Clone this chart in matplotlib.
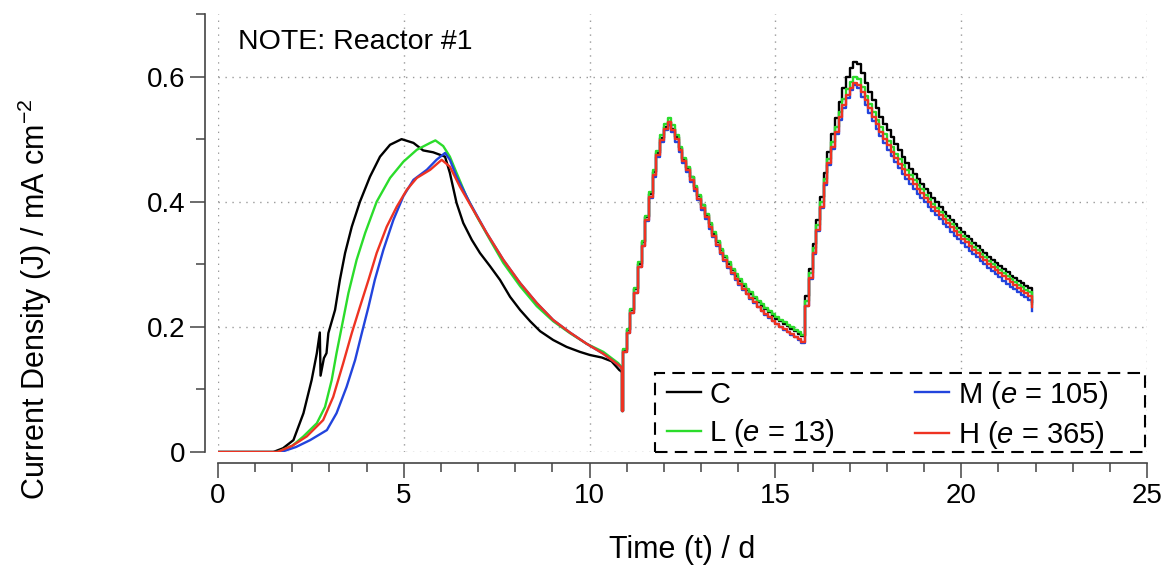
import numpy as np
import matplotlib
matplotlib.use('Agg')
import matplotlib.pyplot as plt
from matplotlib.patches import Rectangle
from matplotlib.ticker import MultipleLocator, FuncFormatter

plt.rcParams['font.family'] = ['Liberation Sans', 'DejaVu Sans']
plt.rcParams['mathtext.fontset'] = 'custom'
plt.rcParams['mathtext.rm'] = 'Liberation Sans'
plt.rcParams['mathtext.it'] = 'Liberation Sans:italic'

# series
labels = ['C', 'L ($e$ = 13)', 'M ($e$ = 105)', 'H ($e$ = 365)']
colors = ['#000000', '#2bdc2b', '#2244dd', '#ee3322']

# phase 1 (start-up), time / d and J / mA cm-2
t1_C = [0, 1.49, 1.75, 2.03, 2.30, 2.52, 2.66, 2.74, 2.76, 2.85, 2.92, 2.97, 3.15, 3.28,
        3.42, 3.60, 3.82, 4.09, 4.36, 4.63, 4.94, 5.26, 5.52, 5.79, 6.11, 6.24, 6.42,
        6.60, 6.83, 7.05, 7.32, 7.59, 7.86, 8.13, 8.40, 8.67, 9.02, 9.38, 9.74, 10.01,
        10.33, 10.59, 10.80, 10.87]
j1_C = [0, 0, 0.006, 0.019, 0.062, 0.115, 0.158, 0.191, 0.122, 0.150, 0.158, 0.190, 0.227,
        0.275, 0.318, 0.360, 0.400, 0.440, 0.472, 0.491, 0.500, 0.494, 0.482, 0.479, 0.472,
        0.446, 0.398, 0.366, 0.339, 0.318, 0.297, 0.275, 0.248, 0.227, 0.209, 0.193, 0.179,
        0.168, 0.160, 0.155, 0.151, 0.145, 0.131, 0.128]

t1_L = [0, 1.60, 2.00, 2.30, 2.66, 2.88, 3.06, 3.19, 3.33, 3.51, 3.73, 3.96, 4.27, 4.63,
        4.99, 5.35, 5.71, 5.85, 6.06, 6.24, 6.42, 6.69, 6.96, 7.32, 7.68, 8.13, 8.58, 9.02,
        9.47, 9.92, 10.37, 10.77, 10.87]
j1_L = [0, 0, 0.010, 0.025, 0.046, 0.072, 0.115, 0.158, 0.200, 0.254, 0.307, 0.350, 0.400,
        0.438, 0.464, 0.483, 0.494, 0.498, 0.489, 0.472, 0.446, 0.408, 0.377, 0.339, 0.302,
        0.265, 0.233, 0.209, 0.190, 0.173, 0.160, 0.142, 0.135]

t1_M = [0, 1.70, 2.10, 2.48, 2.93, 3.19, 3.46, 3.69, 3.87, 4.05, 4.22, 4.45, 4.72, 4.99,
        5.26, 5.62, 5.88, 6.11, 6.24, 6.42, 6.78, 7.23, 7.68, 8.13, 8.58, 9.02, 9.47, 9.92,
        10.37, 10.82, 10.87]
j1_M = [0, 0, 0.008, 0.019, 0.035, 0.062, 0.104, 0.147, 0.190, 0.232, 0.275, 0.323, 0.371,
        0.409, 0.435, 0.451, 0.467, 0.478, 0.467, 0.440, 0.398, 0.350, 0.307, 0.270, 0.238,
        0.211, 0.191, 0.173, 0.157, 0.137, 0.133]

t1_H = [0, 1.60, 2.00, 2.39, 2.83, 3.10, 3.37, 3.60, 3.82, 4.05, 4.27, 4.54, 4.81, 5.08,
        5.35, 5.71, 6.02, 6.24, 6.51, 6.78, 7.23, 7.68, 8.13, 8.58, 9.02, 9.47, 9.92, 10.37,
        10.82, 10.87]
j1_H = [0, 0, 0.010, 0.025, 0.051, 0.088, 0.142, 0.190, 0.232, 0.275, 0.318, 0.360, 0.392,
        0.419, 0.438, 0.451, 0.467, 0.456, 0.424, 0.396, 0.350, 0.307, 0.270, 0.238, 0.211,
        0.191, 0.173, 0.157, 0.137, 0.133]

# dip at the medium change
t_dip = 10.88
j_dip = 0.065

# logged values after the medium changes (0.1 d steps)
t2 = np.round(np.arange(10.9, 15.75, 0.1), 2)
j2_C = [0.163, 0.195, 0.227, 0.260, 0.301, 0.336, 0.375, 0.412, 0.447, 0.478, 0.502,
        0.519, 0.527, 0.517, 0.503, 0.486, 0.469, 0.454, 0.439, 0.424, 0.409,
        0.394, 0.379, 0.364, 0.349, 0.336, 0.323, 0.312, 0.301, 0.291, 0.282,
        0.274, 0.266, 0.259, 0.252, 0.246, 0.240, 0.234, 0.228, 0.223, 0.218,
        0.213, 0.209, 0.205, 0.201, 0.197, 0.193, 0.189, 0.185]
j2_L = [0.165, 0.196, 0.228, 0.262, 0.303, 0.338, 0.377, 0.415, 0.450, 0.481, 0.506,
        0.524, 0.534, 0.522, 0.506, 0.488, 0.470, 0.455, 0.440, 0.425, 0.410,
        0.395, 0.380, 0.366, 0.351, 0.337, 0.325, 0.314, 0.303, 0.293, 0.284,
        0.276, 0.268, 0.261, 0.255, 0.248, 0.242, 0.236, 0.230, 0.225, 0.220,
        0.216, 0.211, 0.207, 0.203, 0.199, 0.195, 0.191, 0.187]
j2_M = [0.160, 0.190, 0.222, 0.254, 0.296, 0.330, 0.369, 0.406, 0.440, 0.471, 0.496,
        0.514, 0.523, 0.511, 0.496, 0.479, 0.462, 0.447, 0.432, 0.417, 0.402,
        0.387, 0.372, 0.357, 0.343, 0.329, 0.316, 0.305, 0.294, 0.284, 0.275,
        0.267, 0.259, 0.252, 0.245, 0.238, 0.231, 0.225, 0.219, 0.214, 0.209,
        0.204, 0.199, 0.195, 0.191, 0.187, 0.183, 0.179, 0.175]
j2_H = [0.160, 0.190, 0.222, 0.254, 0.296, 0.330, 0.370, 0.408, 0.443, 0.474, 0.499,
        0.517, 0.527, 0.515, 0.500, 0.482, 0.465, 0.450, 0.435, 0.420, 0.405,
        0.390, 0.375, 0.360, 0.345, 0.331, 0.318, 0.307, 0.296, 0.286, 0.276,
        0.268, 0.260, 0.253, 0.246, 0.239, 0.232, 0.226, 0.220, 0.215, 0.210,
        0.205, 0.200, 0.196, 0.192, 0.188, 0.184, 0.180, 0.176]

t3 = np.round(np.arange(15.8, 21.95, 0.1), 2)
j3_C = [0.250, 0.292,
        0.332, 0.370, 0.408, 0.446, 0.480, 0.508, 0.534, 0.560, 0.582, 0.600,
        0.614, 0.624, 0.620, 0.605, 0.590, 0.576, 0.562, 0.549, 0.536, 0.525,
        0.514, 0.503, 0.492, 0.482, 0.472, 0.462, 0.453, 0.444, 0.436, 0.428,
        0.421, 0.414, 0.406, 0.399, 0.392, 0.384, 0.377, 0.370, 0.364, 0.358,
        0.352, 0.346, 0.340, 0.334, 0.329, 0.323, 0.318, 0.312, 0.307, 0.302,
        0.297, 0.292, 0.287, 0.282, 0.278, 0.274, 0.270, 0.265, 0.262, 0.240]
j3_L = [0.242, 0.286,
        0.326, 0.363, 0.400, 0.437, 0.469, 0.496, 0.520, 0.544, 0.564, 0.580,
        0.592, 0.600, 0.596, 0.583, 0.569, 0.556, 0.543, 0.531, 0.519, 0.508,
        0.497, 0.487, 0.477, 0.468, 0.459, 0.450, 0.442, 0.434, 0.427, 0.420,
        0.411, 0.404, 0.397, 0.390, 0.384, 0.377, 0.371, 0.364, 0.358, 0.352,
        0.346, 0.340, 0.334, 0.328, 0.323, 0.317, 0.312, 0.306, 0.301, 0.296,
        0.291, 0.286, 0.281, 0.276, 0.272, 0.267, 0.263, 0.259, 0.255, 0.236]
j3_M = [0.233, 0.276,
        0.316, 0.353, 0.390, 0.427, 0.459, 0.485, 0.508, 0.531, 0.550, 0.566,
        0.578, 0.586, 0.581, 0.568, 0.555, 0.542, 0.529, 0.517, 0.505, 0.494,
        0.483, 0.473, 0.463, 0.454, 0.445, 0.436, 0.428, 0.420, 0.413, 0.406,
        0.399, 0.392, 0.385, 0.378, 0.372, 0.365, 0.359, 0.352, 0.346, 0.340,
        0.334, 0.328, 0.322, 0.316, 0.311, 0.305, 0.300, 0.294, 0.289, 0.284,
        0.279, 0.274, 0.269, 0.264, 0.260, 0.255, 0.251, 0.247, 0.243, 0.226]
j3_H = [0.233, 0.278,
        0.318, 0.355, 0.392, 0.430, 0.462, 0.488, 0.512, 0.536, 0.555, 0.571,
        0.582, 0.590, 0.586, 0.575, 0.562, 0.549, 0.536, 0.524, 0.512, 0.501,
        0.490, 0.480, 0.470, 0.461, 0.452, 0.443, 0.436, 0.428, 0.421, 0.414,
        0.406, 0.399, 0.392, 0.385, 0.379, 0.372, 0.366, 0.359, 0.353, 0.347,
        0.341, 0.335, 0.329, 0.323, 0.318, 0.312, 0.307, 0.301, 0.296, 0.291,
        0.286, 0.281, 0.276, 0.271, 0.267, 0.262, 0.258, 0.254, 0.250, 0.232]

t1_all = [t1_C, t1_L, t1_M, t1_H]
j1_all = [j1_C, j1_L, j1_M, j1_H]
j2_all = [j2_C, j2_L, j2_M, j2_H]
j3_all = [j3_C, j3_L, j3_M, j3_H]

fig = plt.figure(figsize=(11.68, 5.69), dpi=100)
ax = fig.add_axes([0.18664, 0.20562, 0.79538, 0.76977])

for t1, j1, j2, j3, lab, col in zip(t1_all, j1_all, j2_all, j3_all, labels, colors):
    ax.plot(t1, j1, color=col, lw=1.7, label=lab)
    ts = np.concatenate([[t1[-1], t_dip], t2, t3])
    js = np.concatenate([[j1[-1], j_dip], j2, j3])
    ax.plot(ts, js, color=col, lw=1.7, drawstyle='steps-post')

ax.set_xlim(0, 25)
ax.set_ylim(0, 0.7)
ax.xaxis.set_major_locator(MultipleLocator(5))
ax.xaxis.set_minor_locator(MultipleLocator(1))
ax.yaxis.set_major_locator(MultipleLocator(0.2))
ax.yaxis.set_minor_locator(MultipleLocator(0.1))
ax.yaxis.set_major_formatter(FuncFormatter(lambda v, p: '{:g}'.format(round(v, 2))))

# 격자
ax.set_axisbelow(True)
ax.grid(True, which='major', color='#999999', linestyle=(0, (1, 4)), linewidth=1.0)

# 스파인
ax.spines['top'].set_visible(False)
ax.spines['right'].set_visible(False)
ax.spines['left'].set_position(('outward', 9.4))
ax.spines['bottom'].set_position(('outward', 8))
for s in ['left', 'bottom']:
    ax.spines[s].set_color('#444444')
    ax.spines[s].set_linewidth(1.2)
ax.tick_params(which='major', direction='out', length=10.8, width=1.1, color='#444444',
               labelsize=20, pad=3.5)
ax.tick_params(which='minor', direction='out', length=6.5, width=1.1, color='#444444')

ax.set_xlabel('Time (t) / d', fontsize=22)
ax.set_ylabel('Current Density (J) / mA cm$^{-2}$', fontsize=22)
ax.xaxis.set_label_coords(0.5, -0.19)
ax.yaxis.set_label_coords(-0.176, 0.35)

ax.text(0.0215, 0.936, 'NOTE: Reactor #1', transform=ax.transAxes, fontsize=20.5,
        ha='left', va='center')

# 범례 - dashed box drawn separately
box = Rectangle((0.4704, 0.0), 0.5274, 0.180, transform=ax.transAxes, facecolor='white',
                edgecolor='black', linewidth=1.5, linestyle=(0, (6, 3.5)), zorder=4,
                clip_on=False)
ax.add_patch(box)
leg = ax.legend(ncol=2, loc='center left', bbox_to_anchor=(0.4833, 0.0845), fontsize=21,
                frameon=False, borderaxespad=0, borderpad=0, handlelength=1.15,
                handletextpad=0.3, columnspacing=2.75, labelspacing=0.3)
leg.set_zorder(5)

fig.savefig('out.png', dpi=100)
